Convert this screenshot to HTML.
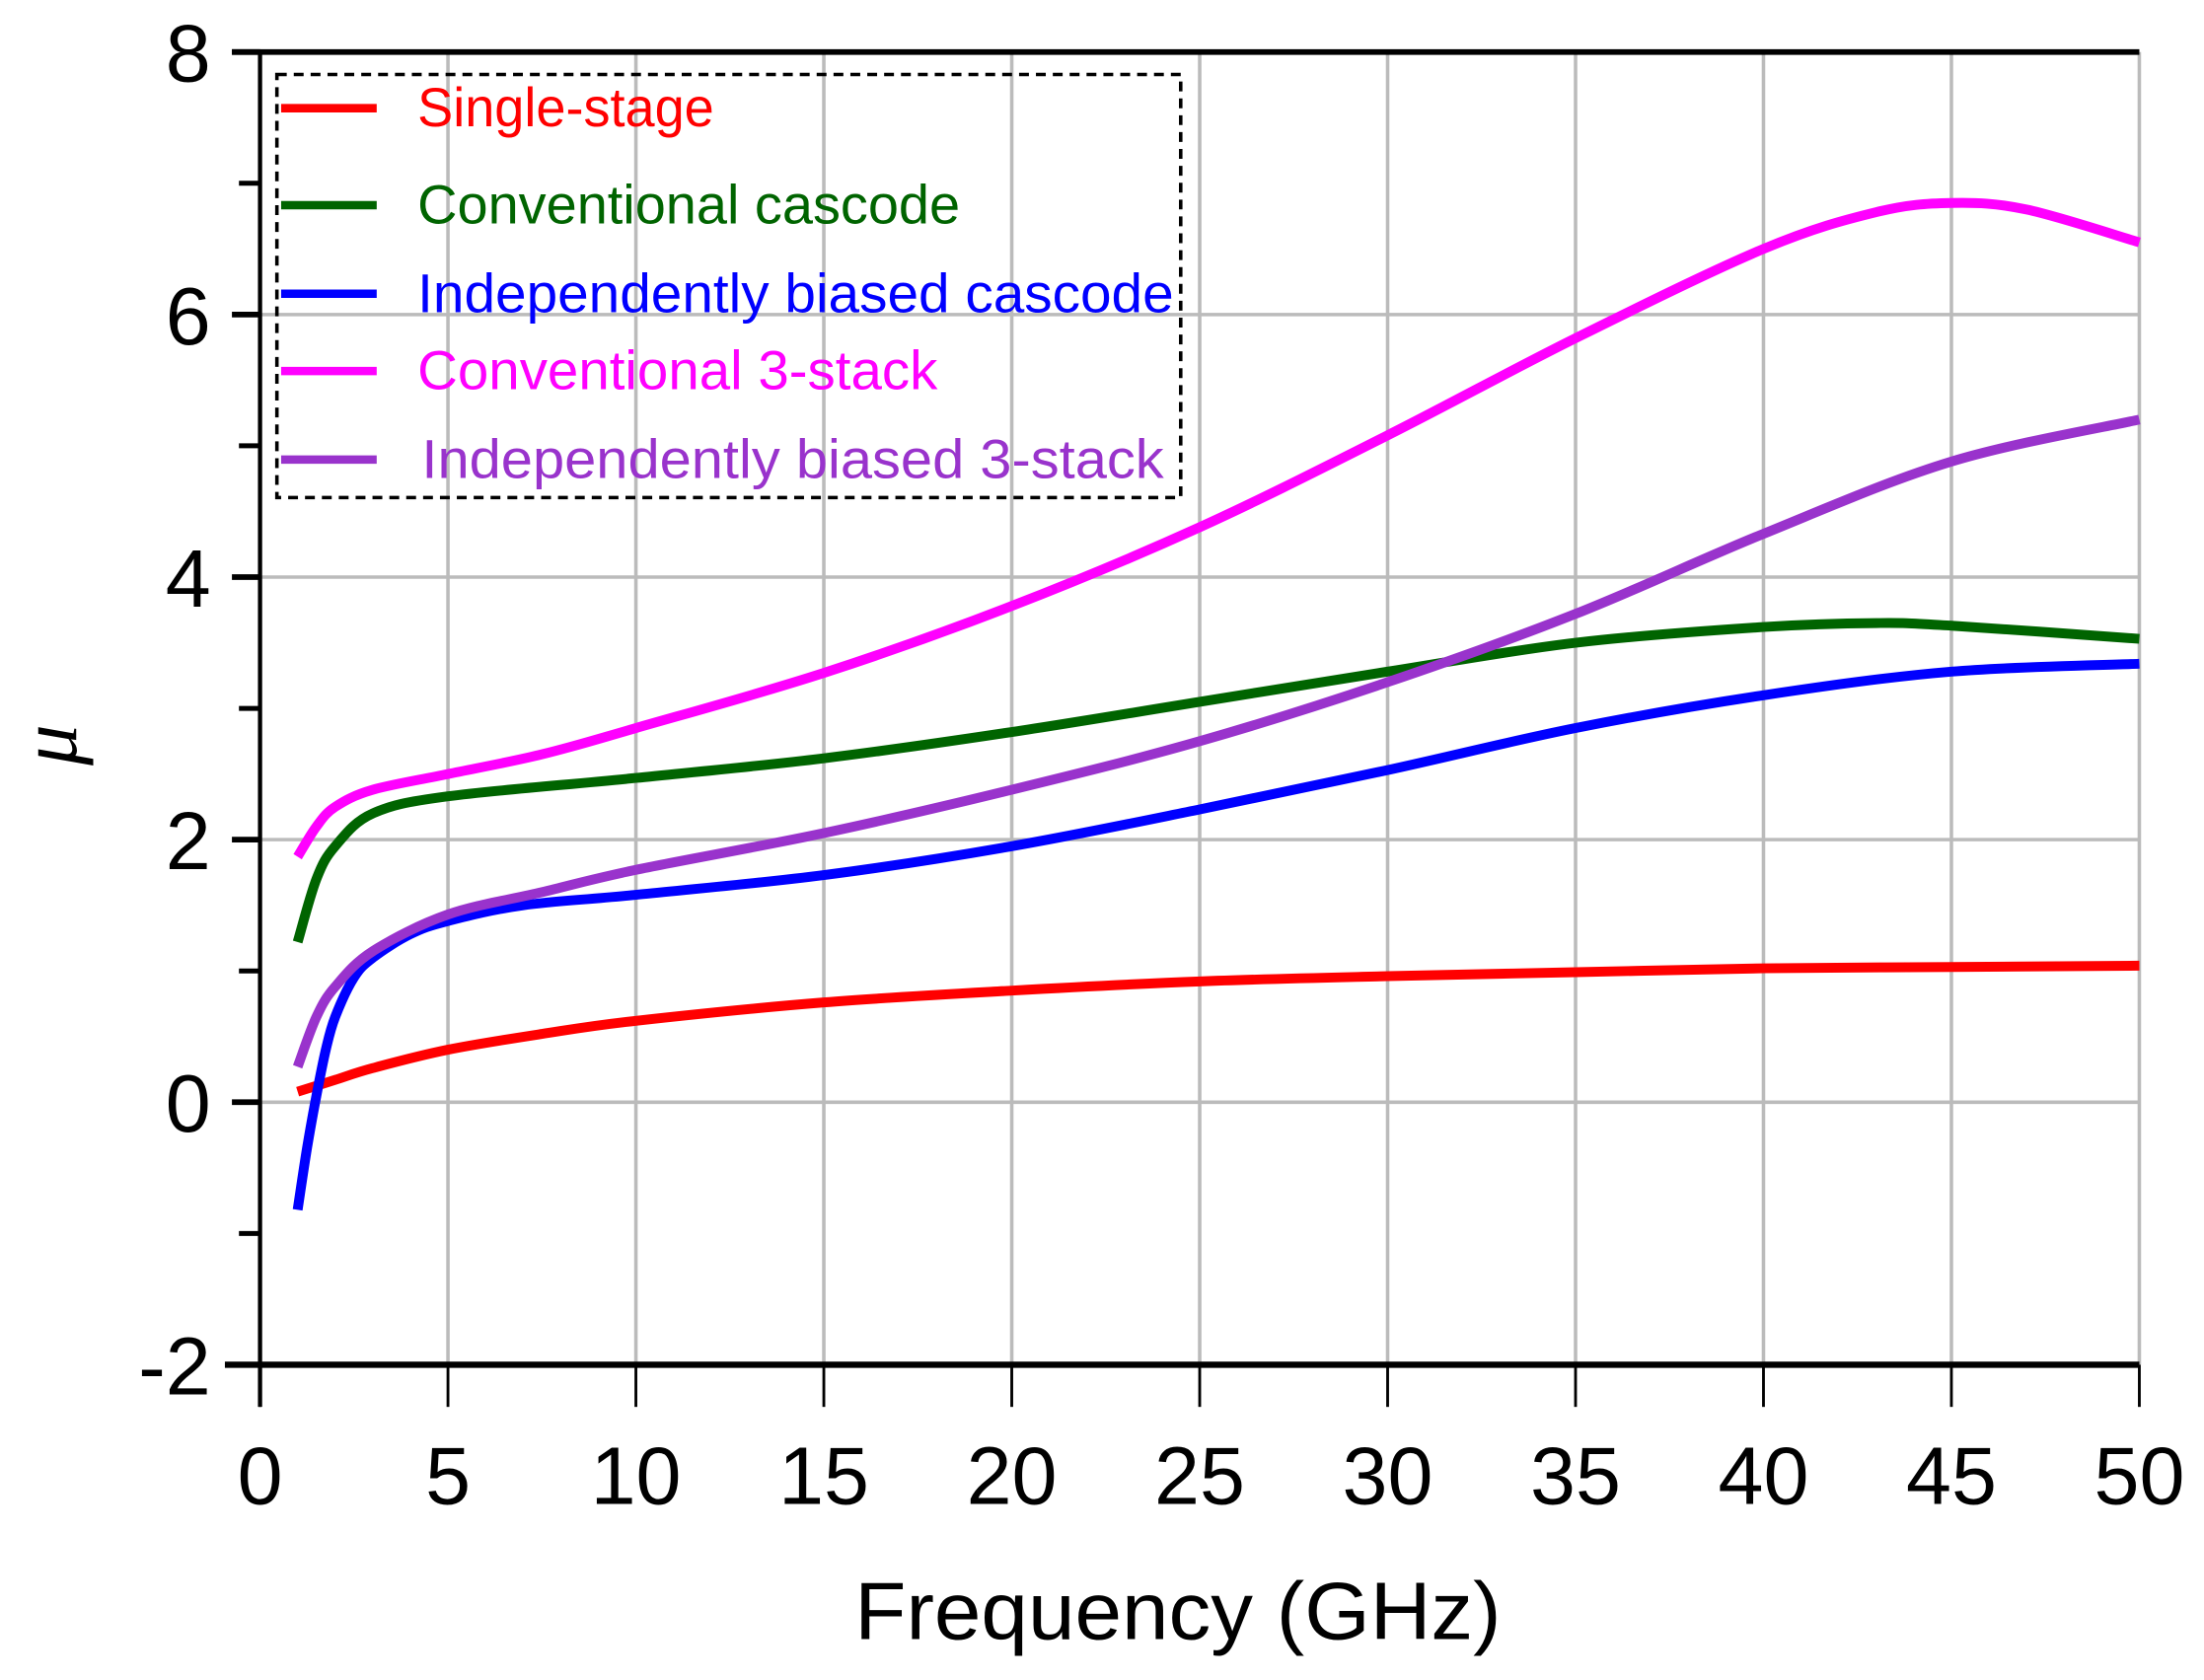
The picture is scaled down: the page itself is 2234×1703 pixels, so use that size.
<!DOCTYPE html>
<html><head><meta charset="utf-8"><style>
html,body{margin:0;padding:0;background:#fff;}
svg{display:block;}
</style></head><body>
<svg id="chart" width="2234" height="1703" viewBox="0 0 1568 1195.3" preserveAspectRatio="none" xmlns="http://www.w3.org/2000/svg">
<g id="grid"></g>
<g id="axes"></g>
<g id="series"></g>
<g id="legend"></g>
<text x="838" y="1166" text-anchor="middle" font-family="Liberation Sans, sans-serif" font-size="58" fill="#000" textLength="460" lengthAdjust="spacingAndGlyphs">Frequency (GHz)</text>
<text x="0" y="0" transform="translate(54,530) rotate(-90)" text-anchor="middle" font-family="Liberation Serif, serif" font-style="italic" font-size="58" fill="#000">μ</text>
</svg>
<script>
const xTicks=[0,5,10,15,20,25,30,35,40,45,50];
const yMajor=[-2,0,2,4,6,8];
const yMinor=[-1,1,3,5,7];
const names=["Single-stage","Conventional cascode","Independently biased cascode","Conventional 3-stack"," Independently biased 3-stack"];
const colors=["#ff0000","#006400","#0000ff","#ff00ff","#9933cc"];
const redX=[1,2,3,5,7.5,10,15,20,25,30,35,40,45,50];
const redY=[0.08,0.17,0.26,0.4,0.52,0.62,0.76,0.85,0.92,0.96,0.99,1.02,1.03,1.04];
const greenX=[1,1.5,2,3,5,10,15,20,25,30,35,40,43,45,50];
const greenY=[1.22,1.7,1.95,2.2,2.33,2.47,2.62,2.82,3.05,3.28,3.5,3.62,3.65,3.63,3.53];
const blueX=[1,1.25,1.5,1.75,2,2.5,3,4,5,7,10,15,20,25,30,35,40,45,50];
const blueY=[-0.82,-0.35,0.05,0.4,0.65,0.95,1.1,1.28,1.38,1.5,1.58,1.73,1.95,2.23,2.53,2.85,3.1,3.28,3.34];
const magX=[1,1.5,2,3,5,7.5,10,15,20,25,30,35,40,43,45,47,50];
const magY=[1.87,2.1,2.25,2.38,2.5,2.65,2.85,3.27,3.78,4.38,5.08,5.82,6.5,6.78,6.85,6.8,6.55];
const purX=[1,1.5,2,3,5,7.5,10,15,20,25,30,35,40,45,50];
const purY=[0.27,0.65,0.88,1.15,1.43,1.6,1.77,2.05,2.38,2.75,3.2,3.72,4.33,4.88,5.2];

const NS="http://www.w3.org/2000/svg";
const X0=185,X1=1522,Y0=971,Y1=37,xmin=0,xmax=50,ymin=-2,ymax=8;
function sx(v){return X0+(v-xmin)/(xmax-xmin)*(X1-X0);}
function sy(v){return Y0-(v-ymin)/(ymax-ymin)*(Y0-Y1);}
function mk(tag,attrs,parent){const e=document.createElementNS(NS,tag);for(const k in attrs)e.setAttribute(k,attrs[k]);parent.appendChild(e);return e;}
const grid=document.getElementById('grid'),axes=document.getElementById('axes'),ser=document.getElementById('series'),leg=document.getElementById('legend');
xTicks.forEach(t=>{if(t===0)return;
 const l=mk('line',{x1:sx(t),x2:sx(t),y1:Y1,y2:Y0,stroke:'#bbbbbb','stroke-width':2.5},grid);
 
 });
yMajor.forEach(t=>{if(t===ymin||t===ymax)return;
 const l=mk('line',{x1:X0,x2:X1,y1:sy(t),y2:sy(t),stroke:'#bbbbbb','stroke-width':2.5},grid);
 
 });
let a=mk('line',{x1:X0,x2:X0,y1:Y1,y2:Y0+30,stroke:'#000','stroke-width':3},axes);


a=mk('line',{x1:160,x2:X1,y1:Y0,y2:Y0,stroke:'#000','stroke-width':4.5},axes);


a=mk('line',{x1:165,x2:X1,y1:Y1,y2:Y1,stroke:'#000','stroke-width':4},axes);


xTicks.forEach(t=>{
 const l=mk('line',{x1:sx(t),x2:sx(t),y1:Y0,y2:Y0+30,stroke:'#000','stroke-width':2},axes);
 
 
 const tx=mk('text',{x:sx(t),y:1070,'text-anchor':'middle','font-family':'Liberation Sans, sans-serif','font-size':58,fill:'#000'},axes);
 tx.textContent=t;
 
 });
yMajor.forEach(t=>{
 const l=mk('line',{x1:165,x2:X0,y1:sy(t),y2:sy(t),stroke:'#000','stroke-width':4},axes);
 
 
 const tx=mk('text',{x:150,y:sy(t)+21,'text-anchor':'end','font-family':'Liberation Sans, sans-serif','font-size':58,fill:'#000'},axes);
 tx.textContent=t;
 
 });
yMinor.forEach(t=>{
 const l=mk('line',{x1:170,x2:X0,y1:sy(t),y2:sy(t),stroke:'#000','stroke-width':3.5},axes);
 
 });
function pathFrom(xs,ys){
 const p=xs.map((x,i)=>[sx(x),sy(ys[i])]);
 let d='M'+p[0][0]+','+p[0][1];
 for(let i=0;i<p.length-1;i++){
  const p0=p[Math.max(0,i-1)],p1=p[i],p2=p[i+1],p3=p[Math.min(p.length-1,i+2)];
  const c1=[p1[0]+(p2[0]-p0[0])/6,p1[1]+(p2[1]-p0[1])/6];
  const c2=[p2[0]-(p3[0]-p1[0])/6,p2[1]-(p3[1]-p1[1])/6];
  d+=' C'+c1+' '+c2+' '+p2;}
 return d;}
const seriesData=[[redX,redY],[greenX,greenY],[blueX,blueY],[magX,magY],[purX,purY]];
const seriesNames=['series-single-stage','series-conventional-cascode','series-independently-biased-cascode','series-conventional-3-stack','series-independently-biased-3-stack'];
seriesData.forEach((s,i)=>{
 const p=mk('path',{d:pathFrom(s[0],s[1]),fill:'none',stroke:colors[i],'stroke-width':7,'stroke-linecap':'butt'},ser);
 
 });
const box=mk('rect',{x:197,y:53,width:643,height:301,fill:'none',stroke:'#000','stroke-width':2.5,'stroke-dasharray':'7,5'},leg);


const legY=[77,146,209,264,327];
const legTX=[297,297,297,297,300];
const legTW=[211,386,538,370,528];
names.forEach((n,i)=>{
 const l=mk('line',{x1:200,x2:268,y1:legY[i],y2:legY[i],stroke:colors[i],'stroke-width':6},leg);
 
 
 const t=mk('text',{x:legTX[i],y:legY[i]+13,'font-family':'Liberation Sans, sans-serif','font-size':39,fill:colors[i],textLength:legTW[i],lengthAdjust:'spacingAndGlyphs','xml:space':'preserve'},leg);
 t.textContent=n;
 
 });
</script>
</body></html>
